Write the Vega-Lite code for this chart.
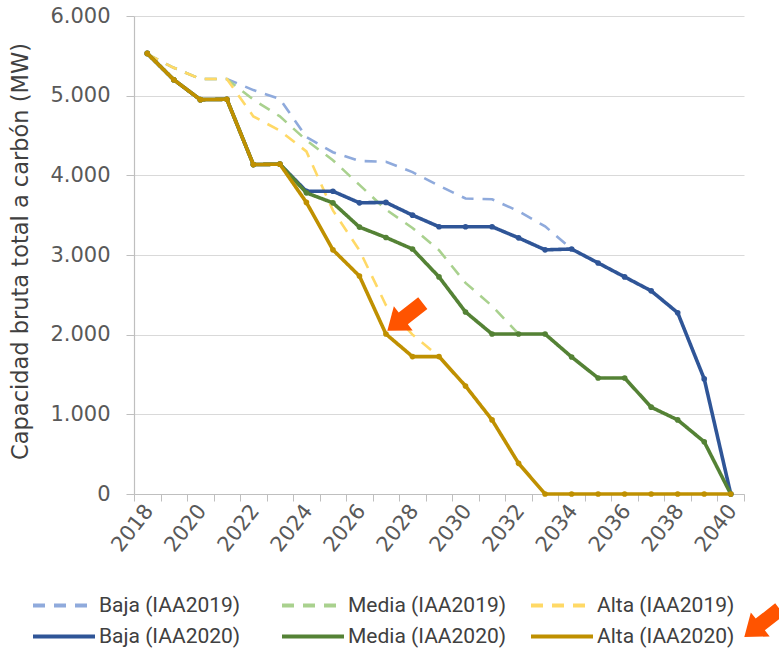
{
  "$schema": "https://vega.github.io/schema/vega-lite/v6.json",
  "width": 610,
  "height": 478,
  "autosize": {"type": "none"},
  "padding": {"left": 134, "top": 16, "right": 35, "bottom": 158},
  "background": "white",
  "config": {
    "view": {"stroke": null},
    "axis": {
      "labelFont": "DejaVu Sans",
      "titleFont": "DejaVu Sans",
      "labelColor": "#595959",
      "titleColor": "#404040",
      "domainColor": "#bfbfbf",
      "tickColor": "#bfbfbf",
      "gridColor": "#d9d9d9"
    }
  },
  "datasets": {
    "capacidad": [
      {"serie": "Baja (IAA2019)", "anio": 2018, "valor": 5520},
      {"serie": "Baja (IAA2019)", "anio": 2019, "valor": 5350},
      {"serie": "Baja (IAA2019)", "anio": 2020, "valor": 5210},
      {"serie": "Baja (IAA2019)", "anio": 2021, "valor": 5210},
      {"serie": "Baja (IAA2019)", "anio": 2022, "valor": 5070},
      {"serie": "Baja (IAA2019)", "anio": 2023, "valor": 4960},
      {"serie": "Baja (IAA2019)", "anio": 2024, "valor": 4480},
      {"serie": "Baja (IAA2019)", "anio": 2025, "valor": 4290},
      {"serie": "Baja (IAA2019)", "anio": 2026, "valor": 4180},
      {"serie": "Baja (IAA2019)", "anio": 2027, "valor": 4170},
      {"serie": "Baja (IAA2019)", "anio": 2028, "valor": 4040},
      {"serie": "Baja (IAA2019)", "anio": 2029, "valor": 3870},
      {"serie": "Baja (IAA2019)", "anio": 2030, "valor": 3710},
      {"serie": "Baja (IAA2019)", "anio": 2031, "valor": 3700},
      {"serie": "Baja (IAA2019)", "anio": 2032, "valor": 3550},
      {"serie": "Baja (IAA2019)", "anio": 2033, "valor": 3360},
      {"serie": "Baja (IAA2019)", "anio": 2034, "valor": 3075},
      {"serie": "Media (IAA2019)", "anio": 2018, "valor": 5520},
      {"serie": "Media (IAA2019)", "anio": 2019, "valor": 5350},
      {"serie": "Media (IAA2019)", "anio": 2020, "valor": 5210},
      {"serie": "Media (IAA2019)", "anio": 2021, "valor": 5210},
      {"serie": "Media (IAA2019)", "anio": 2022, "valor": 4950},
      {"serie": "Media (IAA2019)", "anio": 2023, "valor": 4740},
      {"serie": "Media (IAA2019)", "anio": 2024, "valor": 4440},
      {"serie": "Media (IAA2019)", "anio": 2025, "valor": 4190},
      {"serie": "Media (IAA2019)", "anio": 2026, "valor": 3880},
      {"serie": "Media (IAA2019)", "anio": 2027, "valor": 3570},
      {"serie": "Media (IAA2019)", "anio": 2028, "valor": 3340},
      {"serie": "Media (IAA2019)", "anio": 2029, "valor": 3060},
      {"serie": "Media (IAA2019)", "anio": 2030, "valor": 2650},
      {"serie": "Media (IAA2019)", "anio": 2031, "valor": 2360},
      {"serie": "Media (IAA2019)", "anio": 2032, "valor": 2010},
      {"serie": "Alta (IAA2019)", "anio": 2018, "valor": 5520},
      {"serie": "Alta (IAA2019)", "anio": 2019, "valor": 5350},
      {"serie": "Alta (IAA2019)", "anio": 2020, "valor": 5210},
      {"serie": "Alta (IAA2019)", "anio": 2021, "valor": 5210},
      {"serie": "Alta (IAA2019)", "anio": 2022, "valor": 4740},
      {"serie": "Alta (IAA2019)", "anio": 2023, "valor": 4560},
      {"serie": "Alta (IAA2019)", "anio": 2024, "valor": 4300},
      {"serie": "Alta (IAA2019)", "anio": 2025, "valor": 3560},
      {"serie": "Alta (IAA2019)", "anio": 2026, "valor": 3060},
      {"serie": "Alta (IAA2019)", "anio": 2027, "valor": 2370},
      {"serie": "Alta (IAA2019)", "anio": 2028, "valor": 2000},
      {"serie": "Alta (IAA2019)", "anio": 2029, "valor": 1725},
      {"serie": "Baja (IAA2020)", "anio": 2018, "valor": 5530},
      {"serie": "Baja (IAA2020)", "anio": 2019, "valor": 5200},
      {"serie": "Baja (IAA2020)", "anio": 2020, "valor": 4950},
      {"serie": "Baja (IAA2020)", "anio": 2021, "valor": 4955},
      {"serie": "Baja (IAA2020)", "anio": 2022, "valor": 4135},
      {"serie": "Baja (IAA2020)", "anio": 2023, "valor": 4140},
      {"serie": "Baja (IAA2020)", "anio": 2024, "valor": 3800},
      {"serie": "Baja (IAA2020)", "anio": 2025, "valor": 3800},
      {"serie": "Baja (IAA2020)", "anio": 2026, "valor": 3655},
      {"serie": "Baja (IAA2020)", "anio": 2027, "valor": 3660},
      {"serie": "Baja (IAA2020)", "anio": 2028, "valor": 3500},
      {"serie": "Baja (IAA2020)", "anio": 2029, "valor": 3355},
      {"serie": "Baja (IAA2020)", "anio": 2030, "valor": 3355},
      {"serie": "Baja (IAA2020)", "anio": 2031, "valor": 3355},
      {"serie": "Baja (IAA2020)", "anio": 2032, "valor": 3215},
      {"serie": "Baja (IAA2020)", "anio": 2033, "valor": 3065},
      {"serie": "Baja (IAA2020)", "anio": 2034, "valor": 3075},
      {"serie": "Baja (IAA2020)", "anio": 2035, "valor": 2900},
      {"serie": "Baja (IAA2020)", "anio": 2036, "valor": 2725},
      {"serie": "Baja (IAA2020)", "anio": 2037, "valor": 2550},
      {"serie": "Baja (IAA2020)", "anio": 2038, "valor": 2275},
      {"serie": "Baja (IAA2020)", "anio": 2039, "valor": 1445},
      {"serie": "Baja (IAA2020)", "anio": 2040, "valor": 0},
      {"serie": "Media (IAA2020)", "anio": 2018, "valor": 5530},
      {"serie": "Media (IAA2020)", "anio": 2019, "valor": 5200},
      {"serie": "Media (IAA2020)", "anio": 2020, "valor": 4950},
      {"serie": "Media (IAA2020)", "anio": 2021, "valor": 4955},
      {"serie": "Media (IAA2020)", "anio": 2022, "valor": 4135},
      {"serie": "Media (IAA2020)", "anio": 2023, "valor": 4140},
      {"serie": "Media (IAA2020)", "anio": 2024, "valor": 3780},
      {"serie": "Media (IAA2020)", "anio": 2025, "valor": 3655},
      {"serie": "Media (IAA2020)", "anio": 2026, "valor": 3350},
      {"serie": "Media (IAA2020)", "anio": 2027, "valor": 3220},
      {"serie": "Media (IAA2020)", "anio": 2028, "valor": 3075},
      {"serie": "Media (IAA2020)", "anio": 2029, "valor": 2725},
      {"serie": "Media (IAA2020)", "anio": 2030, "valor": 2285},
      {"serie": "Media (IAA2020)", "anio": 2031, "valor": 2008},
      {"serie": "Media (IAA2020)", "anio": 2032, "valor": 2008},
      {"serie": "Media (IAA2020)", "anio": 2033, "valor": 2008},
      {"serie": "Media (IAA2020)", "anio": 2034, "valor": 1720},
      {"serie": "Media (IAA2020)", "anio": 2035, "valor": 1456},
      {"serie": "Media (IAA2020)", "anio": 2036, "valor": 1456},
      {"serie": "Media (IAA2020)", "anio": 2037, "valor": 1090},
      {"serie": "Media (IAA2020)", "anio": 2038, "valor": 930},
      {"serie": "Media (IAA2020)", "anio": 2039, "valor": 655},
      {"serie": "Media (IAA2020)", "anio": 2040, "valor": 0},
      {"serie": "Alta (IAA2020)", "anio": 2018, "valor": 5530},
      {"serie": "Alta (IAA2020)", "anio": 2019, "valor": 5200},
      {"serie": "Alta (IAA2020)", "anio": 2020, "valor": 4950},
      {"serie": "Alta (IAA2020)", "anio": 2021, "valor": 4955},
      {"serie": "Alta (IAA2020)", "anio": 2022, "valor": 4135},
      {"serie": "Alta (IAA2020)", "anio": 2023, "valor": 4140},
      {"serie": "Alta (IAA2020)", "anio": 2024, "valor": 3660},
      {"serie": "Alta (IAA2020)", "anio": 2025, "valor": 3065},
      {"serie": "Alta (IAA2020)", "anio": 2026, "valor": 2736},
      {"serie": "Alta (IAA2020)", "anio": 2027, "valor": 2008},
      {"serie": "Alta (IAA2020)", "anio": 2028, "valor": 1725},
      {"serie": "Alta (IAA2020)", "anio": 2029, "valor": 1725},
      {"serie": "Alta (IAA2020)", "anio": 2030, "valor": 1356},
      {"serie": "Alta (IAA2020)", "anio": 2031, "valor": 930},
      {"serie": "Alta (IAA2020)", "anio": 2032, "valor": 385},
      {"serie": "Alta (IAA2020)", "anio": 2033, "valor": 0},
      {"serie": "Alta (IAA2020)", "anio": 2034, "valor": 0},
      {"serie": "Alta (IAA2020)", "anio": 2035, "valor": 0},
      {"serie": "Alta (IAA2020)", "anio": 2036, "valor": 0},
      {"serie": "Alta (IAA2020)", "anio": 2037, "valor": 0},
      {"serie": "Alta (IAA2020)", "anio": 2038, "valor": 0},
      {"serie": "Alta (IAA2020)", "anio": 2039, "valor": 0},
      {"serie": "Alta (IAA2020)", "anio": 2040, "valor": 0}
    ],
    "flechas": [
      {"anio": 2027.72, "valor": 2222},
      {"anio": 2041.18, "valor": -1620}
    ]
  },
  "encoding": {
    "x": {
      "field": "anio",
      "type": "quantitative",
      "scale": {"domain": [2017.5, 2040.5], "nice": false, "zero": false},
      "axis": {
        "title": null,
        "grid": false,
        "values": [2017.5, 2018.5, 2019.5, 2020.5, 2021.5, 2022.5, 2023.5, 2024.5, 2025.5, 2026.5, 2027.5, 2028.5, 2029.5, 2030.5, 2031.5, 2032.5, 2033.5, 2034.5, 2035.5, 2036.5, 2037.5, 2038.5, 2039.5, 2040.5],
        "labelExpr": "(datum.value + 0.5) % 2 == 0 ? toString(datum.value + 0.5) : ''",
        "labelOffset": 15,
        "labelAngle": -52,
        "labelAlign": "right",
        "labelBaseline": "middle",
        "labelFontSize": 21,
        "labelPadding": 6,
        "labelOverlap": false,
        "labelFlush": false,
        "tickSize": 7,
        "domainWidth": 1.2
      }
    },
    "y": {
      "field": "valor",
      "type": "quantitative",
      "scale": {"domain": [0, 6000], "nice": false},
      "axis": {
        "title": "Capacidad bruta total a carbón (MW)",
        "titleFontSize": 22.5,
        "titleFontWeight": "normal",
        "titlePadding": 17,
        "titleY": 235,
        "values": [0, 1000, 2000, 3000, 4000, 5000, 6000],
        "labelExpr": "replace(format(datum.value, ','), ',', '.')",
        "labelFontSize": 21,
        "labelPadding": 16,
        "tickSize": 8,
        "grid": true,
        "domainWidth": 1.2
      }
    }
  },
  "layer": [
    {
      "data": {"name": "capacidad"},
      "transform": [{"filter": {"field": "serie", "oneOf": ["Baja (IAA2019)", "Media (IAA2019)", "Alta (IAA2019)"]}}],
      "mark": {"type": "line", "strokeWidth": 2.6, "strokeCap": "butt"},
      "encoding": {
        "color": {
          "field": "serie",
          "type": "nominal",
          "scale": {
            "domain": ["Baja (IAA2019)", "Media (IAA2019)", "Alta (IAA2019)", "Baja (IAA2020)", "Media (IAA2020)", "Alta (IAA2020)"],
            "range": ["#8faadc", "#a9d18e", "#ffd966", "#2f5597", "#548235", "#bf9000"]
          },
          "legend": {
            "title": null,
            "orient": "none",
            "direction": "horizontal",
            "legendX": -103,
            "legendY": 577,
            "columns": 3,
            "symbolType": "stroke",
            "symbolSize": 3844,
            "symbolStrokeWidth": 4,
            "labelFont": "Roboto",
            "labelFontSize": 21,
            "labelColor": "#404040",
            "labelOffset": 2,
            "labelLimit": 400,
            "gridAlign": "all",
            "columnPadding": 22,
            "clipHeight": 25,
            "rowPadding": 6
          }
        },
        "strokeDash": {
          "field": "serie",
          "type": "nominal",
          "scale": {
            "domain": ["Baja (IAA2019)", "Media (IAA2019)", "Alta (IAA2019)", "Baja (IAA2020)", "Media (IAA2020)", "Alta (IAA2020)"],
            "range": [[12, 9], [12, 9], [12, 9], [1, 0], [1, 0], [1, 0]]
          }
        }
      }
    },
    {
      "data": {"name": "capacidad"},
      "transform": [{"filter": {"field": "serie", "equal": "Baja (IAA2020)"}}],
      "mark": {"type": "line", "strokeWidth": 3.6, "point": {"filled": true, "size": 32}},
      "encoding": {
        "color": {"field": "serie", "type": "nominal"},
        "strokeDash": {"field": "serie", "type": "nominal"}
      }
    },
    {
      "data": {"name": "capacidad"},
      "transform": [{"filter": {"field": "serie", "equal": "Media (IAA2020)"}}],
      "mark": {"type": "line", "strokeWidth": 3.6, "point": {"filled": true, "size": 32}},
      "encoding": {
        "color": {"field": "serie", "type": "nominal"},
        "strokeDash": {"field": "serie", "type": "nominal"}
      }
    },
    {
      "data": {"name": "capacidad"},
      "transform": [{"filter": {"field": "serie", "equal": "Alta (IAA2020)"}}],
      "mark": {"type": "line", "strokeWidth": 3.6, "point": {"filled": true, "size": 32}},
      "encoding": {
        "color": {"field": "serie", "type": "nominal"},
        "strokeDash": {"field": "serie", "type": "nominal"}
      }
    },
    {
      "data": {"name": "flechas"},
      "mark": {
        "type": "point",
        "shape": "M-1,0L-0.1,-0.68L-0.1,-0.33L1,-0.33L1,0.33L-0.1,0.33L-0.1,0.68Z",
        "filled": true,
        "color": "#ff5400",
        "opacity": 1,
        "size": 2025,
        "angle": -38
      },
      "encoding": {}
    }
  ]
}
